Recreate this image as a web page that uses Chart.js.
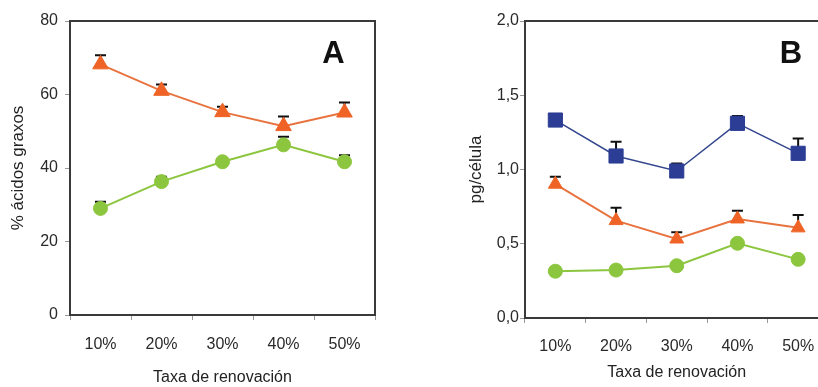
<!DOCTYPE html>
<html>
<head>
<meta charset="utf-8">
<script src="https://cdn.jsdelivr.net/npm/chart.js@4"></script>
<style>
  html, body { margin: 0; padding: 0; background: #fff; }
  body { width: 818px; height: 387px; overflow: hidden; position: relative; }
  canvas { position: absolute; top: 0; }
  #chartA { left: 0; }
  #chartB { left: 410px; }
</style>
</head>
<body>
<canvas id="chartA" width="410" height="387"></canvas>
<canvas id="chartB" width="440" height="387"></canvas>
<script>
const categories = ['10%', '20%', '30%', '40%', '50%'];

// A: % ácidos graxos
const tickValuesA = [0, 20, 40, 60, 80];
const tickLabelsA = ['0', '20', '40', '60', '80'];
const orangeA = [68.2, 61.0, 55.2, 51.4, 55.1];
const orangeErrA = [2.5, 1.7, 1.5, 2.6, 2.7];
const greenA = [29.0, 36.3, 41.7, 46.3, 41.7];
const greenErrA = [1.8, 1.3, 0.8, 2.2, 1.8];

// B: pg/célula
const tickValuesB = [0, 0.5, 1.0, 1.5, 2.0];
const tickLabelsB = ['0,0', '0,5', '1,0', '1,5', '2,0'];
const blueB = [1.333, 1.091, 0.990, 1.311, 1.109];
const blueErrB = [0.04, 0.096, 0.05, 0.05, 0.10];
const orangeB = [0.901, 0.656, 0.532, 0.667, 0.607];
const orangeErrB = [0.051, 0.087, 0.045, 0.055, 0.087];
const greenB = [0.315, 0.323, 0.352, 0.503, 0.395];
const greenErrB = [0.02, 0.02, 0.015, 0.02, 0.015];

const ORANGE = '#EF6426';
const ORANGE_LINE = '#E9733F';
const GREEN = '#8CC63E';
const BLUE = '#2B3D94';
const BLUE_LINE = '#34478F';

Chart.defaults.font.family = "'Liberation Sans', Arial, sans-serif";
Chart.defaults.color = '#2a2a2a';

// upper error bars, drawn under the markers
const errorBars = {
    id: 'errorBars',
    beforeDatasetsDraw(chart) {
        const ctx = chart.ctx;
        const yScale = chart.scales.y;
        ctx.save();
        ctx.strokeStyle = '#111';
        ctx.lineWidth = 2;
        chart.data.datasets.forEach((ds, i) => {
            const meta = chart.getDatasetMeta(i);
            meta.data.forEach((pt, j) => {
                const top = yScale.getPixelForValue(ds.data[j] + ds.errors[j]);
                ctx.beginPath();
                ctx.moveTo(pt.x, pt.y);
                ctx.lineTo(pt.x, top);
                ctx.moveTo(pt.x - 5.5, top);
                ctx.lineTo(pt.x + 5.5, top);
                ctx.stroke();
            });
        });
        ctx.restore();
    }
};

// box around the plot area plus the panel letter
const panelFrame = {
    id: 'panelFrame',
    afterDraw(chart, args, opts) {
        const { ctx, chartArea: a } = chart;
        ctx.save();
        ctx.strokeStyle = '#3a3a3a';
        ctx.lineWidth = 2;
        ctx.strokeRect(a.left, a.top, a.right - a.left, a.bottom - a.top);
        ctx.fillStyle = '#111';
        ctx.font = "bold 31px 'Liberation Sans', Arial, sans-serif";
        ctx.textAlign = 'center';
        ctx.textBaseline = 'middle';
        ctx.fillText(opts.letter, opts.x, opts.y);
        ctx.restore();
    }
};

function makeDataset(values, errors, color, lineColor, style, radius, lineWidth) {
    return {
        data: values,
        errors: errors,
        borderColor: lineColor,
        borderWidth: lineWidth,
        backgroundColor: color,
        pointBackgroundColor: color,
        pointBorderColor: color,
        pointBorderWidth: 1,
        pointStyle: style,
        pointRadius: radius,
        tension: 0,
        fill: false
    };
}

function makeOptions(cfg) {
    return {
        responsive: false,
        animation: false,
        layout: { padding: { left: 0, top: 21, right: cfg.padRight, bottom: 0 } },
        plugins: {
            legend: { display: false },
            tooltip: { enabled: false },
            panelFrame: { letter: cfg.letter, x: cfg.letterX, y: 54 }
        },
        scales: {
            x: {
                type: 'category',
                offset: true,
                afterFit: (s) => { s.height = cfg.xHeight; },
                border: { display: false },
                grid: { display: true, offset: true, drawOnChartArea: false, drawTicks: true, tickLength: 5, color: '#999' },
                ticks: { padding: cfg.xTickPad, font: { size: 16 }, maxRotation: 0 },
                title: { display: true, text: 'Taxa de renovación', font: { size: 16 }, color: '#222',
                         padding: { top: 0, bottom: cfg.xTitlePad } }
            },
            y: {
                min: 0,
                max: cfg.max,
                afterFit: (s) => { s.width = cfg.yWidth; },
                afterBuildTicks: (s) => { s.ticks = cfg.tickValues.map(v => ({ value: v })); },
                border: { display: false },
                grid: { display: true, drawOnChartArea: false, drawTicks: true, tickLength: 5, color: '#999' },
                ticks: {
                    padding: cfg.yTickPad,
                    font: { size: 16 },
                    callback: (v, i) => cfg.tickLabels[i]
                },
                title: { display: true, text: cfg.yTitle, font: { size: 17 }, color: '#222',
                         padding: { top: cfg.yTitlePad, bottom: 0 } }
            }
        }
    };
}

new Chart(document.getElementById('chartA'), {
    type: 'line',
    data: {
        labels: categories,
        datasets: [
            makeDataset(orangeA, orangeErrA, ORANGE, ORANGE_LINE, 'triangle', 9, 2),
            makeDataset(greenA, greenErrA, GREEN, GREEN, 'circle', 7, 2)
        ]
    },
    options: makeOptions({
        letter: 'A', letterX: 333.5, padRight: 35, xHeight: 72, yWidth: 70,
        xTickPad: 15, xTitlePad: 0, yTickPad: 7, yTitlePad: 8,
        max: 80, tickValues: tickValuesA, tickLabels: tickLabelsA, yTitle: '% ácidos graxos'
    }),
    plugins: [errorBars, panelFrame]
});

new Chart(document.getElementById('chartB'), {
    type: 'line',
    data: {
        labels: categories,
        datasets: [
            makeDataset(blueB, blueErrB, BLUE, BLUE_LINE, 'rect', 10, 1.5),
            makeDataset(orangeB, orangeErrB, ORANGE, ORANGE_LINE, 'triangle', 8, 2),
            makeDataset(greenB, greenErrB, GREEN, GREEN, 'circle', 7, 2)
        ]
    },
    options: makeOptions({
        letter: 'B', letterX: 381, padRight: 21.5, xHeight: 69, yWidth: 115,
        xTickPad: 14, xTitlePad: 5, yTickPad: 1, yTitlePad: 56,
        max: 2, tickValues: tickValuesB, tickLabels: tickLabelsB, yTitle: 'pg/célula'
    }),
    plugins: [errorBars, panelFrame]
});
</script>
</body>
</html>
